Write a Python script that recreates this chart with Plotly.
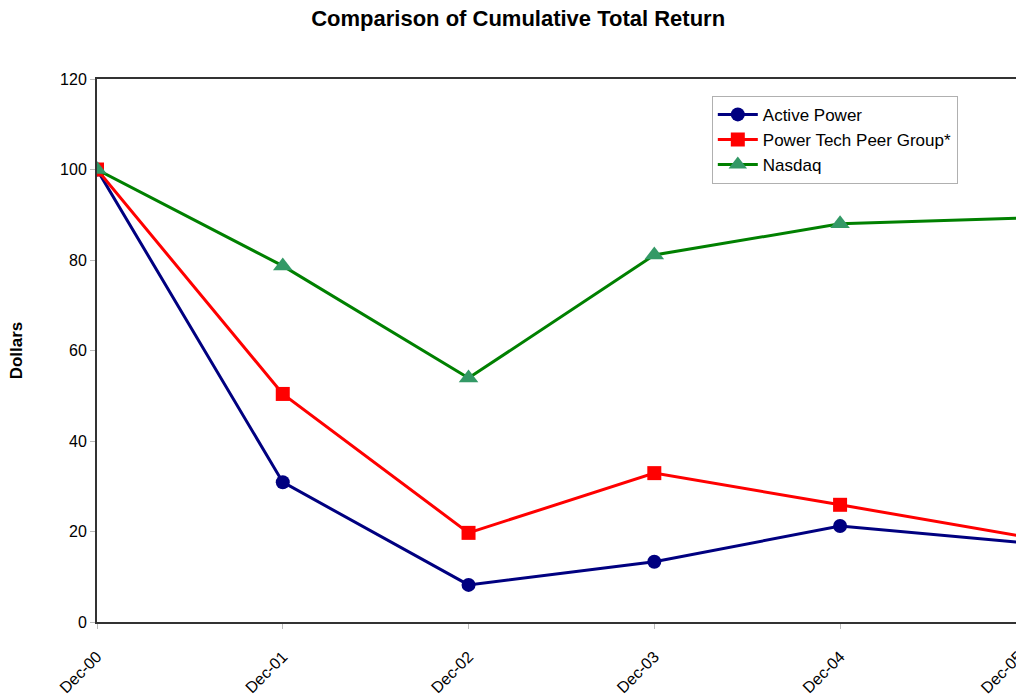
import plotly.graph_objects as go

categories = ["Dec-00", "Dec-01", "Dec-02", "Dec-03", "Dec-04", "Dec-05"]
active_power = [100, 30.9, 8.2, 13.3, 21.2, 17.5]
peer_group = [100, 50.4, 19.7, 32.9, 25.9, 18.8]
nasdaq = [100, 78.7, 53.9, 81.1, 88.0, 89.3]

fig = go.Figure()
fig.add_trace(go.Scatter(x=categories, y=active_power, name="Active Power", mode="lines+markers",
                         legendgroup="a",
                         line=dict(color="#000080", width=3),
                         marker=dict(symbol="circle", size=14, color="#000080")))
fig.add_trace(go.Scatter(x=categories, y=peer_group, name="Power Tech Peer Group*", mode="lines+markers",
                         legendgroup="b",
                         line=dict(color="#FF0000", width=3),
                         marker=dict(symbol="square", size=14, color="#FF0000")))
fig.add_trace(go.Scatter(x=categories, y=nasdaq, name="Nasdaq", mode="lines+markers",
                         legendgroup="c",
                         line=dict(color="#008000", width=3),
                         marker=dict(symbol="triangle-up", size=17, color="#339966")))

fig.update_layout(
    width=1016, height=696,
    margin=dict(l=97, r=0, t=79, b=74, autoexpand=False),
    paper_bgcolor="white", plot_bgcolor="white",
    font=dict(family="Liberation Sans, Arial, sans-serif", size=16, color="#000000"),
    title=dict(text="<b>Comparison of Cumulative Total Return</b>", x=0.51, xanchor="center",
               y=0.974, yanchor="middle", font=dict(size=22)),
    legend=dict(x=0.669, y=0.969, xanchor="left", yanchor="top", bgcolor="white",
                bordercolor="#b0b0b0", borderwidth=1, font=dict(size=17),
                tracegroupgap=0, itemwidth=40),
    showlegend=True,
)
fig.update_xaxes(type="category", range=[0, 4.947], showline=True, linecolor="#333333", linewidth=2,
                 mirror=True, ticks="outside", ticklen=5, tickcolor="#bbbbbb", tickangle=-45,
                 ticklabelstandoff=12, automargin=False,
                 showgrid=False, zeroline=False, tickfont=dict(size=16))
fig.update_yaxes(range=[0, 120], dtick=20, showline=True, linecolor="#333333", linewidth=2,
                 mirror=True, ticks="outside", ticklen=5, tickcolor="#bbbbbb", automargin=False,
                 showgrid=False, zeroline=False, tickfont=dict(size=16),
                 title=dict(text="<b>Dollars</b>", font=dict(size=17), standoff=33))

# last category label sits just past the right edge of the visible plot area
fig.add_annotation(text=categories[-1], xref="paper", yref="paper", x=1.0141, y=0,
                   xanchor="right", yanchor="top", yshift=-23, textangle=-45,
                   showarrow=False, font=dict(size=16))

fig.write_html("out.html", config={"displayModeBar": False},
               post_script="document.body.style.margin='0';document.body.style.overflow='hidden';")
